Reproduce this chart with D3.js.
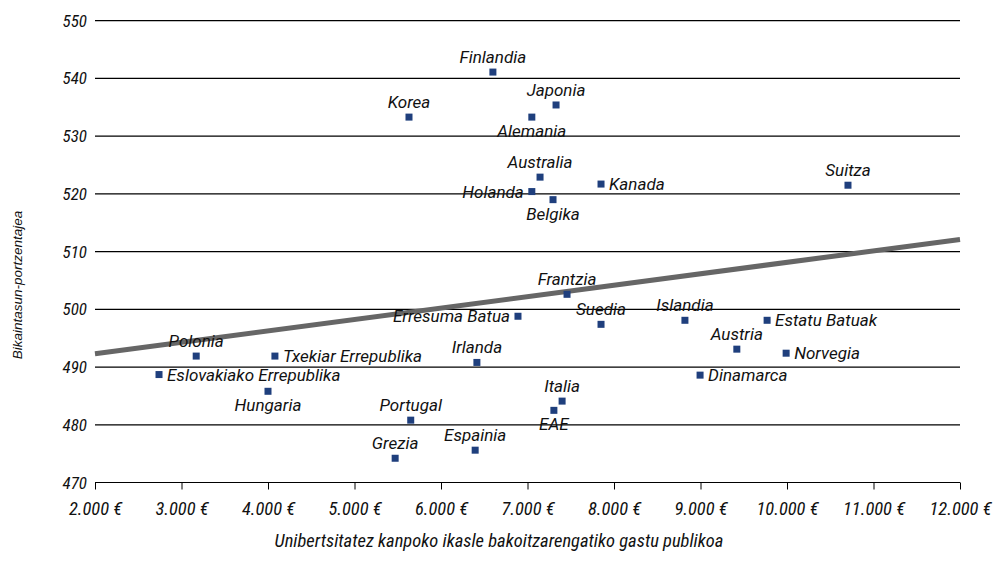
<!DOCTYPE html>
<html><head><meta charset="utf-8">
<script src="https://cdn.jsdelivr.net/npm/d3@7"></script>
<style>body{margin:0;background:#fff}svg{display:block}</style>
</head><body><svg id="c" width="993" height="566"></svg>
<script>
const countries = ["Finlandia","Korea","Japonia","Alemania","Australia","Holanda","Belgika","Kanada","Suitza","Frantzia","Erresuma Batua","Suedia","Islandia","Estatu Batuak","Austria","Norvegia","Dinamarca","Polonia","Txekiar Errepublika","Eslovakiako Errepublika","Hungaria","Irlanda","Portugal","Grezia","Espainia","Italia","EAE"];
const spending = [6600,5630,7330,7050,7145,7050,7295,7850,10705,7457,6890,7850,8820,9770,9420,9990,8995,3170,4080,2740,4000,6415,5650,5470,6395,7400,7305];
const score = [541.1,533.3,535.4,533.3,522.9,520.4,519.0,521.7,521.5,502.6,498.8,497.4,498.1,498.1,493.1,492.4,488.6,491.9,491.9,488.7,485.8,490.8,480.8,474.2,475.6,484.1,482.5];
const xTicks = [2000,3000,4000,5000,6000,7000,8000,9000,10000,11000,12000];
const yTicks = [470,480,490,500,510,520,530,540,550];
const trendX = [2000,12000];
const trendY = [492.3,512.1];
const xTitle = "Unibertsitatez kanpoko ikasle bakoitzarengatiko gastu publikoa";
const yTitle = "Bikaintasun-portzentajea";

// label placement: a=above, b=below, l=left, r=right
const place = {"Alemania":"b","Belgika":"b","Hungaria":"b","EAE":"b","Holanda":"l","Erresuma Batua":"l",
  "Kanada":"r","Estatu Batuak":"r","Norvegia":"r","Dinamarca":"r","Txekiar Errepublika":"r","Eslovakiako Errepublika":"r"};

const svg = d3.select("#c");
const L = 95, R = 960, T = 20.7, B = 482.5;
const x = d3.scaleLinear().domain([2000,12000]).range([L,R]);
const y = d3.scaleLinear().domain([470,550]).range([B,T]);
const fmt = v => d3.format(",")(v).replace(/,/g,".") + " €";
const cond = "'Liberation Sans Narrow','Roboto Condensed',sans-serif";
const lab = "Roboto,'Liberation Sans',sans-serif";

// grid lines
svg.append("g").selectAll("line").data(yTicks).join("line")
  .attr("x1",L).attr("x2",R).attr("y1",d=>y(d)).attr("y2",d=>y(d))
  .attr("stroke","#000").attr("stroke-width",1.2);

// y labels
svg.append("g").selectAll("text").data(yTicks).join("text")
  .attr("x",87).attr("y",d=>y(d)+6).attr("text-anchor","end")
  .attr("font-family",cond).attr("font-style","italic").attr("font-size",17).attr("fill","#111")
  .text(d=>d);

// x axis
const xa = svg.append("g").attr("transform",`translate(0,${B})`)
  .call(d3.axisBottom(x).tickValues(xTicks).tickFormat(fmt).tickSize(7).tickPadding(12));
xa.select(".domain").attr("stroke","#000").attr("stroke-width",1.2).attr("d",`M${L},0H${R}`);
xa.selectAll(".tick line").attr("stroke","#000");
xa.selectAll("text").attr("font-family",cond).attr("font-style","italic").attr("font-size",18.5).attr("fill","#111");

// trend line
svg.append("line").attr("x1",x(trendX[0])).attr("y1",y(trendY[0])).attr("x2",x(trendX[1])).attr("y2",y(trendY[1]))
  .attr("stroke","#666").attr("stroke-width",5);

// points
const data = countries.map((c,i)=>({c, x:spending[i], y:score[i]}));
svg.append("g").selectAll("rect").data(data).join("rect")
  .attr("x",d=>x(d.x)-3.5).attr("y",d=>y(d.y)-3.5).attr("width",7).attr("height",7).attr("fill","#1f3f7d");

svg.append("g").selectAll("text").data(data).join("text")
  .attr("font-family",lab).attr("font-style","italic").attr("font-size",17).attr("fill","#111")
  .each(function(d){
    const p = place[d.c] || "a";
    const px = x(d.x), py = y(d.y);
    const t = d3.select(this);
    if(p==="a") t.attr("x",px).attr("y",py-9).attr("text-anchor","middle");
    else if(p==="b") t.attr("x",px).attr("y",py+20).attr("text-anchor","middle");
    else if(p==="l") t.attr("x",px-8).attr("y",py+6).attr("text-anchor","end");
    else t.attr("x",px+8).attr("y",py+6).attr("text-anchor","start");
  })
  .text(d=>d.c);

// titles
svg.append("text").attr("x",499).attr("y",547).attr("text-anchor","middle")
  .attr("font-family",cond).attr("font-style","italic").attr("font-size",18.5).attr("fill","#111").text(xTitle);
svg.append("text").attr("transform","translate(22,285) rotate(-90)").attr("text-anchor","middle")
  .attr("font-family","'Liberation Sans',Arial,sans-serif").attr("font-style","italic").attr("font-size",13.5).attr("fill","#111").text(yTitle);
</script></body></html>
